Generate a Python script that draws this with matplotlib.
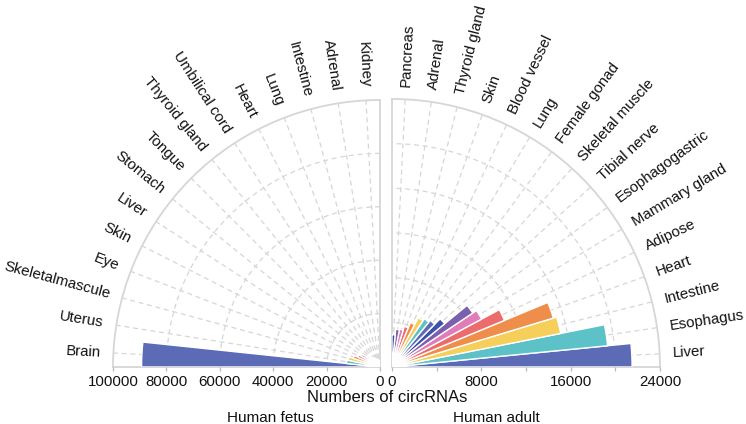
import numpy as np
import matplotlib
matplotlib.use("Agg")
import matplotlib.pyplot as plt

plt.rcParams['font.family'] = ['Liberation Sans', 'DejaVu Sans']

# ---------------- data ----------------
fetus_tissues = ["Brain", "Uterus", "Skeletalmascule", "Eye", "Skin", "Liver", "Stomach",
                 "Tongue", "Thyroid gland", "Umbilical cord", "Heart", "Lung", "Intestine",
                 "Adrenal", "Kidney"]
fetus_counts = [89300, 12600, 12200, 10600, 9100, 8200, 6000, 5000, 4500, 4000, 3500,
                3000, 2800, 2500, 2200]

adult_tissues = ["Liver", "Esophagus", "Intestine", "Heart", "Adipose", "Mammary gland",
                 "Esophagogastric", "Tibial nerve", "Skeletal muscle", "Female gonad", "Lung",
                 "Blood vessel", "Skin", "Thyroid gland", "Adrenal", "Pancreas"]
adult_counts = [21500, 19400, 15400, 15100, 10900, 9100, 8700, 6100, 5400, 5200, 5000,
                4300, 3800, 3450, 3400, 2900]

fetus_ticks = [100000, 80000, 60000, 40000, 20000, 0]
adult_ticks = [0, 8000, 16000, 24000]

palette = ["#5B6BB6", "#5CC2C8", "#F6CF5B", "#EF8D4A", "#EC6B6C", "#E07CB8", "#7A60AF", "#3F52A3"]

GRID = "#D6D6D6"
TXT = "#111111"
W, H = 746, 424
fig = plt.figure(figsize=(W / 100, H / 100), dpi=100)


def rect(x0, y_bottom, w, h):
    return [x0 / W, (H - y_bottom) / H, w / W, h / H]


def style_polar(ax, rmax, rgrid, thetas):
    ax.set_ylim(0, rmax)
    ax.set_yticks(rgrid)
    ax.set_yticklabels([])
    ax.set_xticks(thetas)
    ax.set_xticklabels([])
    ax.set_axisbelow(True)
    ax.grid(True, color=GRID, linestyle=(0, (4, 3)), linewidth=0.9)
    ax.tick_params(axis='x', length=4, direction='inout', color=GRID, width=0.9)
    ax.tick_params(axis='y', length=0)
    for s in ['polar', 'start', 'end']:
        ax.spines[s].set_color(GRID)
        ax.spines[s].set_linewidth(1.3)
    ax.spines['inner'].set_visible(False)


LABEL_FS = 10.8
PAD = 1.048

# ---------------- left: human fetus ----------------
axL = fig.add_axes(rect(113, 367, 267, 267), projection='polar')
axL.set_thetamin(90)
axL.set_thetamax(180)
nL = len(fetus_tissues)
wL = 90.0 / nL
angL = np.array([180 - (i + 0.5) * wL for i in range(nL)])
style_polar(axL, 100000, [20000, 40000, 60000, 80000], np.deg2rad(angL))
colL = [palette[i % len(palette)] for i in range(nL)]
axL.bar(np.deg2rad(angL), fetus_counts, width=np.deg2rad(wL), color=colL,
        edgecolor='white', linewidth=1.0, zorder=3)
for a, name in zip(angL, fetus_tissues):
    axL.text(np.deg2rad(a), 100000 * PAD, name, rotation=a - 180,
             rotation_mode='anchor', ha='right', va='center', fontsize=LABEL_FS,
             color=TXT, clip_on=False)

# ---------------- right: human adult ----------------
axR = fig.add_axes(rect(392, 367, 268, 268), projection='polar')
axR.set_thetamin(0)
axR.set_thetamax(90)
nR = len(adult_tissues)
wR = 90.0 / nR
angR = np.array([(i + 0.5) * wR for i in range(nR)])
style_polar(axR, 24000, [4000, 8000, 12000, 16000, 20000], np.deg2rad(angR))
colR = [palette[i % len(palette)] for i in range(nR)]
axR.bar(np.deg2rad(angR), adult_counts, width=np.deg2rad(wR), color=colR,
        edgecolor='white', linewidth=1.0, zorder=3)
for a, name in zip(angR, adult_tissues):
    axR.text(np.deg2rad(a), 24000 * PAD, name, rotation=a,
             rotation_mode='anchor', ha='left', va='center', fontsize=LABEL_FS,
             color=TXT, clip_on=False)

# ---------------- bottom value axes ----------------
def value_axis(r, lim, ticks, minor):
    ax = fig.add_axes(r)
    ax.patch.set_visible(False)
    ax.set_xlim(*lim)
    ax.set_ylim(0, 1)
    for s in ax.spines.values():
        s.set_visible(False)
    ax.set_yticks([])
    ax.set_xticks(ticks)
    ax.set_xticklabels([str(t) for t in ticks])
    if minor is not None:
        ax.set_xticks(minor, minor=True)
    ax.tick_params(axis='x', which='both', length=3, color='#BBBBBB', width=0.9,
                   labelsize=10.8, labelcolor=TXT, pad=3)
    return ax

value_axis(rect(113, 367, 267, 0.5), (100000, 0), fetus_ticks, None)
value_axis(rect(392, 367, 268, 0.5), (0, 24000), adult_ticks,
           [4000, 12000, 20000])

fig.text(387.5 / W, 1 - 397 / H, "Numbers of circRNAs", ha='center', va='center',
         fontsize=12, color=TXT)
fig.text(270 / W, 1 - 417.5 / H, "Human fetus", ha='center', va='center',
         fontsize=11, color=TXT)
fig.text(496 / W, 1 - 417.5 / H, "Human adult", ha='center', va='center',
         fontsize=11, color=TXT)

fig.savefig("out.png", dpi=100)
